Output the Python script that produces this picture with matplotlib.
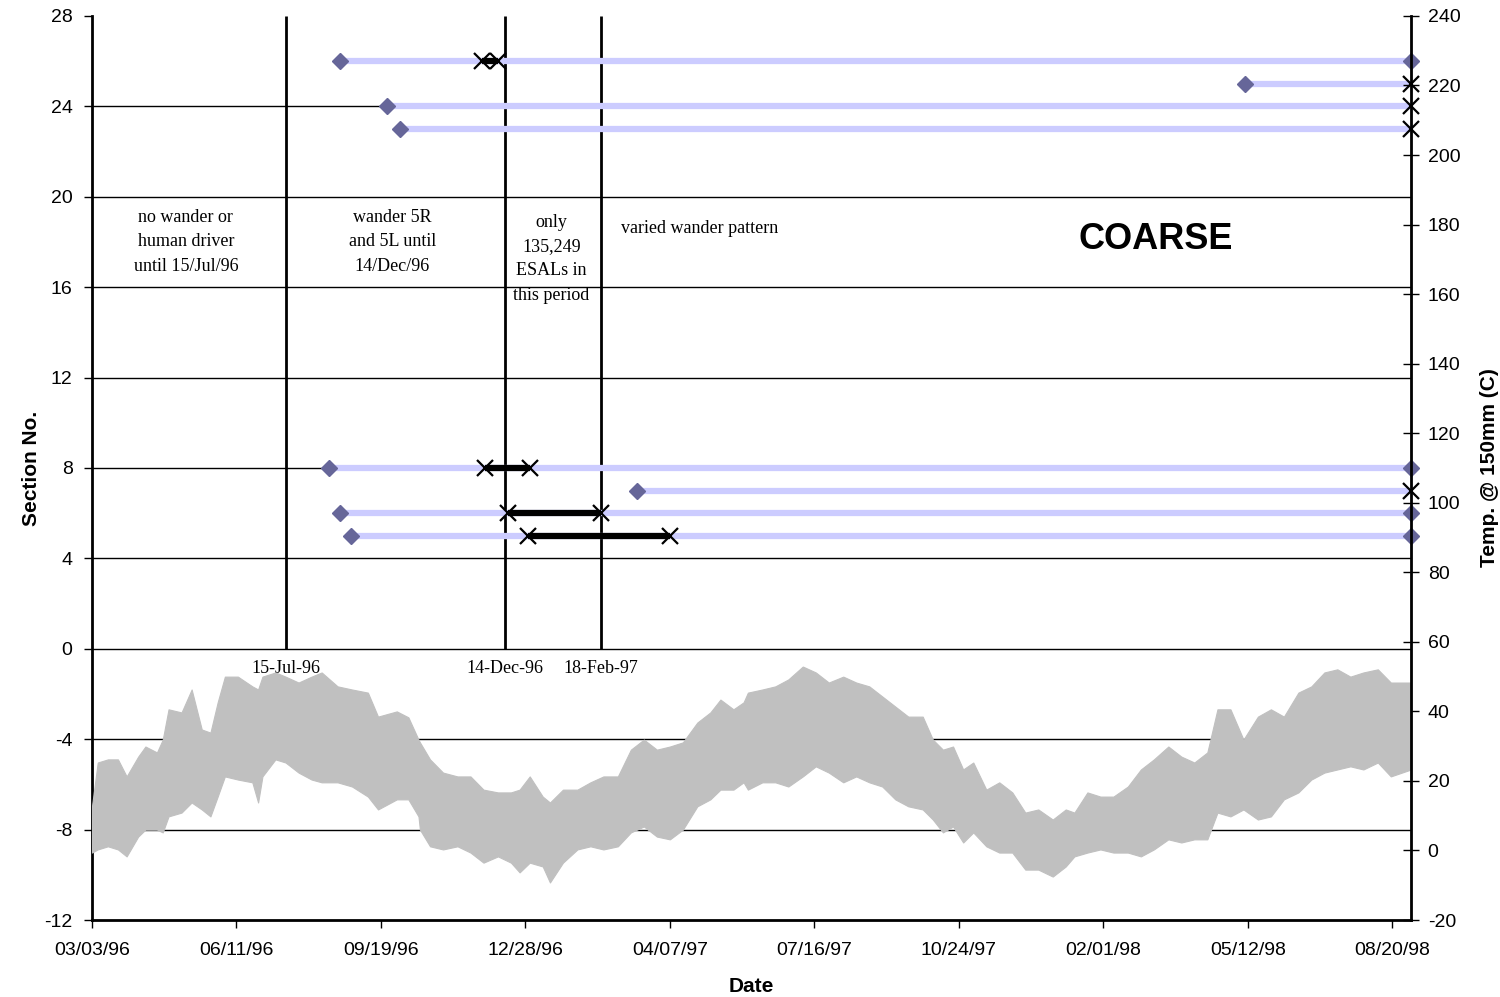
import numpy as np
import pandas as pd
import matplotlib
matplotlib.use("Agg")
import matplotlib.pyplot as plt
import matplotlib.dates as mdates
from matplotlib.ticker import FixedLocator

plt.rcParams['font.family'] = ['Liberation Sans', 'DejaVu Sans']
plt.rcParams['axes.unicode_minus'] = False

start = pd.Timestamp('1996-03-03')
axis_end = pd.Timestamp('1998-09-02')

# sections: start (diamond), first X, second X (if any), end diamond (if any)
section_no = [26, 25, 24, 23, 8, 7, 6, 5]
sec_start = ['1996-08-22', '1998-05-10', '1996-09-23', '1996-10-02',
             '1996-08-14', '1997-03-15', '1996-08-22', '1996-08-29']
sec_x1 = ['1996-11-28', '1998-09-02', '1998-09-02', '1998-09-02',
          '1996-11-30', '1998-09-02', '1996-12-16', '1996-12-30']
sec_x2 = ['1996-12-09', None, None, None,
          '1996-12-31', None, '1997-02-18', '1997-04-07']
sec_end = ['1998-09-02', None, None, None,
           '1998-09-02', None, '1998-09-02', '1998-09-02']

event_dates = ['1996-07-15', '1996-12-14', '1997-02-18']
event_labels = ['15-Jul-96', '14-Dec-96', '18-Feb-97']

# pavement temperature @150mm, upper/lower envelope
temp_day = [0, 4, 11, 18, 24, 32, 37, 45, 49, 53, 62, 69, 76, 82, 87, 92, 101, 111,
            115, 118, 127, 134, 143, 152, 159, 170, 180, 191, 198, 211, 219, 226, 227,
            234, 243, 253, 262, 271, 281, 290, 296, 303, 312, 317, 326, 336, 345, 354,
            364, 373, 382, 391, 400, 409, 419, 428, 435, 444, 451, 454, 464, 473, 482,
            492, 501, 510, 520, 529, 538, 547, 556, 565, 575, 582, 589, 596, 603, 610,
            619, 628, 637, 646, 655, 665, 674, 680, 689, 698, 707, 717, 726, 735, 745,
            754, 763, 772, 779, 788, 797, 807, 816, 825, 835, 844, 853, 862, 871, 880,
            890, 899, 913]
temp_hi = [12.7, 25.3, 26.2, 26.2, 21.3, 27.0, 29.9, 28.2, 31.9, 40.6, 39.7, 46.3, 34.8,
           33.9, 42.6, 50.0, 50.0, 47.2, 46.3, 50.0, 51.2, 50.0, 48.3, 50.0, 51.2, 47.2,
           46.3, 45.4, 38.5, 40.0, 38.3, 31.9, 31.1, 26.2, 22.4, 21.3, 21.3, 17.5, 16.7,
           16.7, 17.5, 21.3, 15.5, 13.8, 17.5, 17.5, 19.6, 21.3, 21.3, 29.0, 31.9, 29.0,
           29.9, 31.1, 36.8, 39.7, 43.4, 40.6, 42.6, 45.4, 46.3, 47.2, 49.2, 52.9, 51.2,
           48.3, 50.0, 48.3, 47.2, 44.3, 41.4, 38.5, 38.5, 31.9, 29.0, 29.9, 23.3, 25.3,
           17.5, 19.6, 16.7, 10.9, 11.8, 8.9, 11.8, 10.9, 16.7, 15.5, 15.5, 18.4, 23.3,
           26.2, 29.9, 27.0, 25.3, 28.2, 40.6, 40.6, 31.9, 38.5, 40.6, 38.5, 45.4, 47.2,
           51.2, 52.1, 50.0, 51.2, 52.1, 48.3, 48.3]
temp_lo = [-0.6, 0.3, 1.2, 0.3, -1.7, 4.0, 6.0, 6.0, 5.2, 9.8, 10.9, 13.8, 11.8, 9.8,
           15.5, 21.3, 20.4, 19.6, 13.8, 21.3, 26.2, 25.3, 22.4, 20.4, 19.6, 19.6, 18.4,
           15.5, 11.8, 14.7, 14.7, 9.8, 6.0, 1.2, 0.3, 1.2, -0.6, -3.5, -1.7, -3.5, -6.3,
           -3.5, -4.6, -9.2, -3.5, 0.3, 1.2, 0.3, 1.2, 5.2, 6.9, 4.0, 3.2, 6.0, 12.7, 14.7,
           17.5, 17.5, 19.6, 17.5, 19.6, 19.6, 18.4, 21.3, 24.2, 22.4, 19.6, 21.3, 19.6,
           18.4, 14.7, 12.7, 11.8, 8.9, 5.2, 6.9, 2.3, 5.2, 1.2, -0.6, -0.6, -5.5, -5.5,
           -7.5, -4.6, -1.7, -0.6, 0.3, -0.6, -0.6, -1.7, 0.3, 3.2, 2.3, 3.2, 3.2, 10.9,
           9.8, 11.8, 8.9, 9.8, 14.7, 16.7, 20.4, 22.4, 23.3, 24.2, 23.3, 25.3, 21.3, 23.3]

temp_dates = start + pd.to_timedelta(temp_day, unit='D')

fig = plt.figure(figsize=(15, 9.97), dpi=100)
ax = fig.add_axes([0.0613, 0.0772, 0.8794, 0.9068])
ax2 = ax.twinx()

# left axis: sections
ax.set_ylim(-12, 28)
ax.set_yticks(range(-12, 29, 4))
ax.set_xlim(start, axis_end)
xt = [start + pd.Timedelta(days=100 * i) for i in range(10)]
ax.xaxis.set_major_locator(FixedLocator(mdates.date2num(xt)))
ax.xaxis.set_major_formatter(mdates.DateFormatter('%m/%d/%y'))

for y in range(-8, 28, 4):
    ax.axhline(y, color='black', lw=1, zorder=1)

ev = pd.to_datetime(event_dates)
ax.vlines(ev, 0, 28, color='black', lw=2, zorder=2)
for d, lab in zip(ev, event_labels):
    ax.text(d, -0.85, lab, ha='center', va='center', fontsize=13, family='Liberation Serif')

for y, s, x1, x2, e in zip(section_no, sec_start, sec_x1, sec_x2, sec_end):
    s = pd.Timestamp(s)
    ax.plot([s, axis_end], [y, y], color='#ccccff', lw=4.5, solid_capstyle='butt', zorder=3)
    xs = [pd.Timestamp(x1)]
    if x2 is not None:
        xs.append(pd.Timestamp(x2))
        ax.plot(xs, [y, y], color='black', lw=4.5, solid_capstyle='butt', zorder=4)
    ax.plot([s], [y], marker='D', ms=8, color='#666699', ls='none', zorder=5, clip_on=False)
    if e is not None:
        ax.plot([pd.Timestamp(e)], [y], marker='D', ms=8, color='#666699', ls='none',
                zorder=5, clip_on=False)
    ax.plot(xs, [y] * len(xs), marker='x', ms=11, mew=1.6, color='black', ls='none',
            zorder=6, clip_on=False)

serif = 'Liberation Serif'
ax.text(pd.Timestamp('1996-05-07'), 18.0, 'no wander or\nhuman driver\nuntil 15/Jul/96',
        ha='center', va='center', fontsize=13, family=serif, linespacing=1.55)
ax.text(pd.Timestamp('1996-09-27'), 18.0, 'wander 5R\nand 5L until\n14/Dec/96',
        ha='center', va='center', fontsize=13, family=serif, linespacing=1.55)
ax.text(pd.Timestamp('1997-01-15'), 17.25, 'only\n135,249\nESALs in\nthis period',
        ha='center', va='center', fontsize=13, family=serif, linespacing=1.55)
ax.text(pd.Timestamp('1997-03-04'), 18.58, 'varied wander pattern',
        ha='left', va='center', fontsize=13, family=serif)
ax.text(pd.Timestamp('1998-03-09'), 18.13, 'COARSE', ha='center', va='center',
        fontsize=26, fontweight='bold')

# right axis: temperature
ax2.set_ylim(-20, 240)
ax2.set_yticks(range(-20, 241, 20))
ax2.fill_between(temp_dates, temp_lo, temp_hi, color='#c0c0c0', lw=0.8,
                 edgecolor='#c0c0c0', zorder=2)

ax.spines['top'].set_visible(False)
ax2.spines['top'].set_visible(False)
for sp in ['left', 'bottom']:
    ax.spines[sp].set_linewidth(2)
ax2.spines['right'].set_linewidth(2)
ax2.spines['left'].set_visible(False)
ax2.spines['bottom'].set_visible(False)

ax.tick_params(axis='y', direction='out', length=6, width=1, pad=8, labelsize=14)
ax.tick_params(axis='x', direction='out', length=6, width=1, pad=10, labelsize=14)
ax2.tick_params(axis='y', direction='inout', length=12, width=1, pad=6, labelsize=14)

ax.set_ylabel('Section No.', fontsize=15, fontweight='bold', labelpad=2)
ax.set_xlabel('Date', fontsize=15, fontweight='bold', labelpad=13)
ax2.set_ylabel('Temp. @ 150mm (C)', fontsize=15, fontweight='bold', labelpad=14)

fig.savefig('out.png', dpi=100)
